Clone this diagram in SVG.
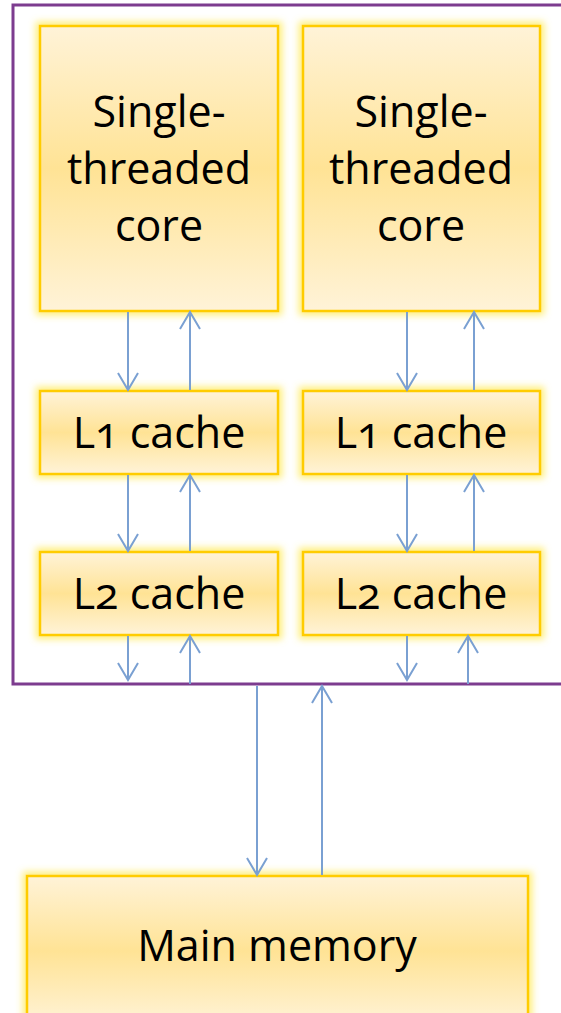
<svg xmlns="http://www.w3.org/2000/svg" width="561" height="1013" viewBox="0 0 561 1013">
<style>
.box{fill:url(#g);stroke:#FFCC00;stroke-width:2.5;filter:url(#glow)}
.t{font-family:"Open Sans","Noto Sans",sans-serif;font-size:43px;fill:#000;text-anchor:middle;font-feature-settings:"onum"}
.c{stroke:#7AA0D2;stroke-width:2;fill:none;marker-end:url(#ah)}
</style>
<defs>
<linearGradient id="g" x1="0" y1="0" x2="0" y2="1">
<stop offset="0" stop-color="#FFF3D8"/>
<stop offset="0.5" stop-color="#FFE395"/>
<stop offset="1" stop-color="#FFF3D8"/>
</linearGradient>
<filter id="glow" x="-20%" y="-20%" width="140%" height="140%">
<feMorphology in="SourceAlpha" operator="dilate" radius="3" result="d"/>
<feGaussianBlur in="d" stdDeviation="3.5" result="b"/>
<feFlood flood-color="#FFE94A" flood-opacity="0.75"/>
<feComposite in2="b" operator="in" result="gl"/>
<feMerge><feMergeNode in="gl"/><feMergeNode in="SourceGraphic"/></feMerge>
</filter>
<marker id="ah" markerUnits="userSpaceOnUse" orient="auto" refX="0" refY="0" markerWidth="40" markerHeight="40" viewBox="-20 -20 40 40" overflow="visible">
<path d="M -17 -10 L 0 0 L -17 10" fill="none" stroke="#7AA0D2" stroke-width="2"/>
</marker>
</defs>
<path id="chip" d="M 565 5 H 13 V 684 H 565" fill="none" stroke="#7D3C8F" stroke-width="3"/>
<g id="core1"><rect class="box" x="40" y="26" width="238" height="285"/>
<text class="t" x="159" y="127">Single-</text><text class="t" x="159" y="184">threaded</text><text class="t" x="159" y="241">core</text></g>
<g id="core2"><rect class="box" x="303" y="26" width="237" height="285"/>
<text class="t" x="421" y="127">Single-</text><text class="t" x="421" y="184">threaded</text><text class="t" x="421" y="241">core</text></g>
<g id="l1a"><rect class="box" x="40" y="391" width="238" height="83"/><text class="t" x="159" y="448">L1 cache</text></g>
<g id="l1b"><rect class="box" x="303" y="391" width="237" height="83"/><text class="t" x="421" y="448">L1 cache</text></g>
<g id="l2a"><rect class="box" x="40" y="552" width="238" height="83"/><text class="t" x="159" y="609">L2 cache</text></g>
<g id="l2b"><rect class="box" x="303" y="552" width="237" height="83"/><text class="t" x="421" y="609">L2 cache</text></g>
<g id="mem"><rect class="box" x="27" y="876" width="501" height="150"/><text class="t" x="277" y="961">Main memory</text></g>
<g id="connectors">
<line class="c" x1="128" y1="312" x2="128" y2="390"/>
<line class="c" x1="190" y1="390" x2="190" y2="312"/>
<line class="c" x1="128" y1="475" x2="128" y2="551"/>
<line class="c" x1="190" y1="551" x2="190" y2="475"/>
<line class="c" x1="128" y1="636" x2="128" y2="680"/>
<line class="c" x1="190" y1="684" x2="190" y2="636"/>
<line class="c" x1="407" y1="312" x2="407" y2="390"/>
<line class="c" x1="474" y1="390" x2="474" y2="312"/>
<line class="c" x1="407" y1="475" x2="407" y2="551"/>
<line class="c" x1="474" y1="551" x2="474" y2="475"/>
<line class="c" x1="407" y1="636" x2="407" y2="680"/>
<line class="c" x1="468" y1="684" x2="468" y2="636"/>
<line class="c" x1="257" y1="686" x2="257" y2="875"/>
<line class="c" x1="322" y1="875" x2="322" y2="686"/>
</g>
</svg>
